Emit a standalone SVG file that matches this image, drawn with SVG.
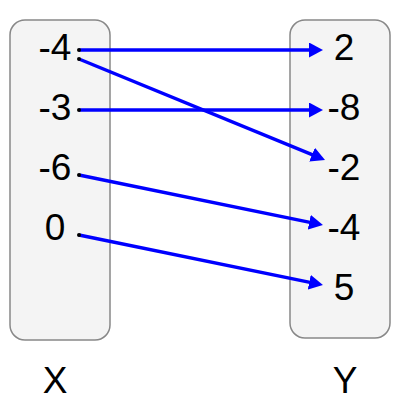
<svg xmlns="http://www.w3.org/2000/svg" width="400" height="400" viewBox="0 0 400 400">
<style>
.box{fill:#f4f4f4;stroke:#888;stroke-width:1.5}
.t{font-family:"Liberation Sans",Arial,sans-serif;font-size:37px;fill:#000;text-anchor:middle}
.c{stroke:#0000ff;stroke-width:3.5;fill:none}
.d{fill:#000}
</style>
<defs>
<marker id="ah" markerUnits="userSpaceOnUse" markerWidth="15" markerHeight="16" refX="2" refY="7.5" orient="auto">
<path d="M0,0 L14,7.5 L0,15 z" fill="#0000ff"/>
</marker>
</defs>
<rect width="400" height="400" fill="#fff"/>
<g id="setX">
<rect class="box" x="10" y="20" width="100" height="320" rx="15"/>
<text class="t" x="55" y="60">-4</text>
<text class="t" x="55" y="120">-3</text>
<text class="t" x="55" y="180">-6</text>
<text class="t" x="55" y="240">0</text>
</g>
<g id="setY">
<rect class="box" x="290" y="20" width="100" height="318" rx="15"/>
<text class="t" x="344" y="60">2</text>
<text class="t" x="344" y="120">-8</text>
<text class="t" x="344" y="180">-2</text>
<text class="t" x="344" y="240">-4</text>
<text class="t" x="344" y="300">5</text>
</g>
<g id="connectors">
<path class="c" d="M79,50 L311,50" marker-end="url(#ah)"/>
<path class="c" d="M79,110 L311,110" marker-end="url(#ah)"/>
<path class="c" d="M79,59 L313.9,155.4" marker-end="url(#ah)"/>
<path class="c" d="M79,175 L311.2,222.6" marker-end="url(#ah)"/>
<path class="c" d="M79,235 L311.2,282.6" marker-end="url(#ah)"/>
<circle class="d" cx="79" cy="50" r="2"/>
<circle class="d" cx="79" cy="59" r="2"/>
<circle class="d" cx="79" cy="110" r="2"/>
<circle class="d" cx="79" cy="175" r="2"/>
<circle class="d" cx="79" cy="235" r="2"/>
</g>
<g id="labels">
<text class="t" x="55" y="393">X</text>
<text class="t" x="345" y="393">Y</text>
</g>
</svg>
